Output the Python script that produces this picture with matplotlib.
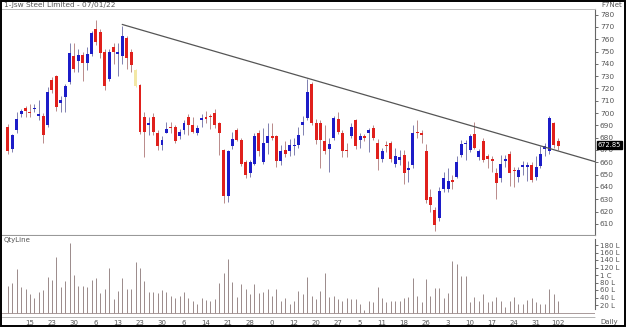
import matplotlib
matplotlib.use("Agg")
import matplotlib.pyplot as plt
from matplotlib.patches import Rectangle

# ---------------- data ----------------
opens = [689,671,686,699,704,701,703,698,698,690, 727,730,708,713,725,746,742,747,741,748,
         768,766,750,728,754,748,746,761,750,735, 723,697,690,697,684,674,684,688.5,689,681,
         686,697,690,684,694,697,698,700,692,670, 633,673,686,678,660,651,659,684,660,676,
         681,681,661,670,669,673,674,690,696,724, 692,692,677,671,680,695,684,670,681,694,
         678,681,684,688,676,663,674,676,659,662, 666,654,658,685,684,669,632,621,615,638,
         638,646,648,666,675,670,683,664,677,665, 663,651,647,661,667,654,648,656,656.5,658,
         648,657,671,669,692,677]
highs = [691,683,701,703,706,707,707,711,700,721, 729,731,714,724,757,757,752,750,754,767,
         776,768,752,752,757,757,771,763,752,736, 724,701,697,700,686,681,693,693,690,687,
         694,699,697,690,699,702,699,703,693,671, 670,685,688,680,662,662,684,686,688,692,
         692,682,674,677,679,680,689,698,728,725, 695,694,690,680,698,701,686,676,692,695,
         684,683,688,690,679,672,677,677,672,670, 670,661,690,694,686,675,638,624,640,652,
         655,650,665,678,678,683,693,671,680,667, 665,655,666,666,669,656,656,661,660,660,
         665,673,676,698,693,680]
lows = [667,668,684,697,697,697,701,694,676,689, 716,702,701,701,724,733,733,726,735,746,
        755,745,719,726,740,730,740,736,733,721, 683,664,682,682,670,670,684,684,676,679,
        683,682,684,682,689,692,687,688,666,627, 628,671,677,657,647,648,658,665,659,667,
        678,656,658,664,665,666,672,682,694,690, 675,655,667,652,678,683,664,664,680,671,
        672,677,668,678,654,660,668,660,656,658, 642,644,655,680,676,627,620,604,612,636,
        636,638,647,664,662,668,671,662,660,655, 652,630,644,656,641,640,644,650,645,644,
        646,655,665,667,672,670]
closes = [669,682,695,702,702,700,704,699,682,717, 719,705,711,722,749,736,747,741,748,765,
          758,749,722,750,750,750,763,745,739,722, 685,685,692,685,673,678,687,687.5,677,685,
          692,690,685,688,696,695,697,690,684,633, 669,679,678,659,650,660,681,669,676,681,
          680,661,669,667,674,674,682,693,717,692, 678,678,669,675,696,685,669,669,689,673,
          681,680,686,680,663,669,673,663,665,664, 651,655,684,684,682,629,625,609,637,647,
          645,644,660,675,676,681,672,669,662,663, 661,643,659,663,651,653,654,658,657.5,646,
          656,667,673,696,674,672.85]
neutral_idx = [29]   # pale yellow candle

volume = [71,80,116,69,64,49,38,55,60,96, 87,147,67,85,186,100,71,71,67,87,
          91,53,64,118,37,58,91,64,62,134, 120,84,56,56,51,60,56,44,38,44,
          55,38,32,24,38,33,31,36,80,106, 142,82,42,76,62,49,76,51,55,64,
          44,62,32,40,22,32,58,49,96,44, 36,58,106,42,44,36,32,38,36,35,
          22,8,32,29,69,40,27,32,31,31, 40,42,91,44,29,89,44,66,66,40,
          51,137,129,98,98,27,42,31,49,27, 31,42,31,16,31,42,22,24,33,38,
          27,24,22,64,49,31]

xtick_pos = [5,10,15,20,25,30,35,40,45,50,55,60,65,70,75,80,85,90,95,100,105,110,115,120,125]
xtick_labels = ["15","23","30","6","13","23","30","6","14","21","28","0","12","20",
                "27","5","11","18","26","3","10","17","24","31","102"]

price_ticks = list(range(610, 790, 10))
vol_ticks = [20,40,60,80,100,120,140,160,180]
vol_tick_labels = ["20 L","40 L","60 L","80 L","1 C","120 L","140 L","160 L","180 L"]

trend_x = [26, 133.4]
trend_y = [772, 660.5]

last_price = 672.85
title = "1-Jsw Steel Limited - 07/01/22"

# ---------------- figure ----------------
W, H = 626, 327
fig = plt.figure(figsize=(W/100, H/100), dpi=100)
fig.patch.set_facecolor("white")

def fx(px): return px / W
def fy(py): return 1 - py / H

ax = fig.add_axes([fx(2), fy(235), fx(595) - fx(2), fy(9) - fy(235)])
axv = fig.add_axes([fx(2), fy(317), fx(595) - fx(2), fy(236) - fy(317)])

RED = "#e0201c"
BLUE = "#1c1cc8"
REDW = "#b98a8a"
BLUEW = "#8080b0"
YEL = "#f3e8a6"

n = len(opens)
idx = list(range(n))
body_w = 0.68
for i in idx:
    o, h, l, c = opens[i], highs[i], lows[i], closes[i]
    if i in neutral_idx:
        col, wc = YEL, YEL
    elif c >= o:
        col, wc = BLUE, BLUEW
    else:
        col, wc = RED, REDW
    ax.vlines(i, l, h, color=wc, linewidth=0.7, zorder=2)
    bot = min(o, c)
    ht = max(abs(c - o), 0.8)
    ax.bar(i, ht, bottom=bot, width=body_w, color=col, linewidth=0, zorder=3)

ax.plot(trend_x, trend_y, color="#555555", linewidth=0.9, zorder=4)

ax.set_xlim(-1.36, 133.4)
ax.set_ylim(600.9, 784.6)
ax.yaxis.tick_right()
ax.set_yticks(price_ticks)
ax.set_yticklabels([str(t) for t in price_ticks])
ax.tick_params(axis="y", direction="out", length=2.5, width=0.6, pad=1,
               labelsize=5.3, colors="#555555")
ax.set_xticks([])
ax.spines["left"].set_visible(False)
ax.spines["top"].set_color("#bbbbbb")
ax.spines["top"].set_linewidth(0.7)
ax.spines["bottom"].set_color("#999999")
ax.spines["bottom"].set_linewidth(0.8)
ax.spines["right"].set_color("#666666")
ax.spines["right"].set_linewidth(0.8)

badge = ax.annotate(f"{last_price:.2f}", xy=(1.0, last_price), xycoords=("axes fraction", "data"),
                    xytext=(2, 1), textcoords="offset points", va="center", ha="left",
                    fontsize=4.8, color="white", zorder=10,
                    bbox=dict(boxstyle="square,pad=0.12", fc="black", ec="black"))
badge.set_annotation_clip(False)

# volume
axv.vlines(idx, 0, volume, color="#9a8a8a", linewidth=0.7)
axv.set_xlim(-1.36, 133.4)
axv.set_ylim(-12, 204)
axv.yaxis.tick_right()
axv.set_yticks(vol_ticks)
axv.set_yticklabels(vol_tick_labels)
axv.tick_params(axis="y", direction="out", length=2.5, width=0.6, pad=1,
                labelsize=5.0, colors="#555555")
axv.set_xticks(xtick_pos)
axv.set_xticklabels(xtick_labels)
axv.tick_params(axis="x", direction="out", length=0, pad=2.5,
                labelsize=5.0, colors="#555555")
axv.axhline(0, color="#9a8a8a", linewidth=0.6)
axv.spines["left"].set_visible(False)
axv.spines["top"].set_visible(False)
axv.spines["bottom"].set_color("#aaaaaa")
axv.spines["bottom"].set_linestyle((0, (1, 1)))
axv.spines["bottom"].set_linewidth(0.6)
axv.spines["right"].set_color("#666666")
axv.spines["right"].set_linewidth(0.8)
axv.spines["right"].set_bounds(10, 195)

# texts
fig.text(fx(4), fy(5), title, fontsize=5.3, color="#555555", va="center", ha="left")
fig.text(fx(622), fy(5), "F7Net", fontsize=5.0, color="#555555", va="center", ha="right")
fig.text(fx(4), fy(240), "QtyLine", fontsize=5.0, color="#555555", va="center", ha="left")
fig.text(fx(618), fy(322), "Daily", fontsize=5.0, color="#555555", va="center", ha="right")

# outer frame
fig.add_artist(Rectangle((0.001, 0.002), 0.997, 0.995, transform=fig.transFigure,
                         fill=False, ec="black", lw=1.4))

fig.savefig("out.png", dpi=100)
